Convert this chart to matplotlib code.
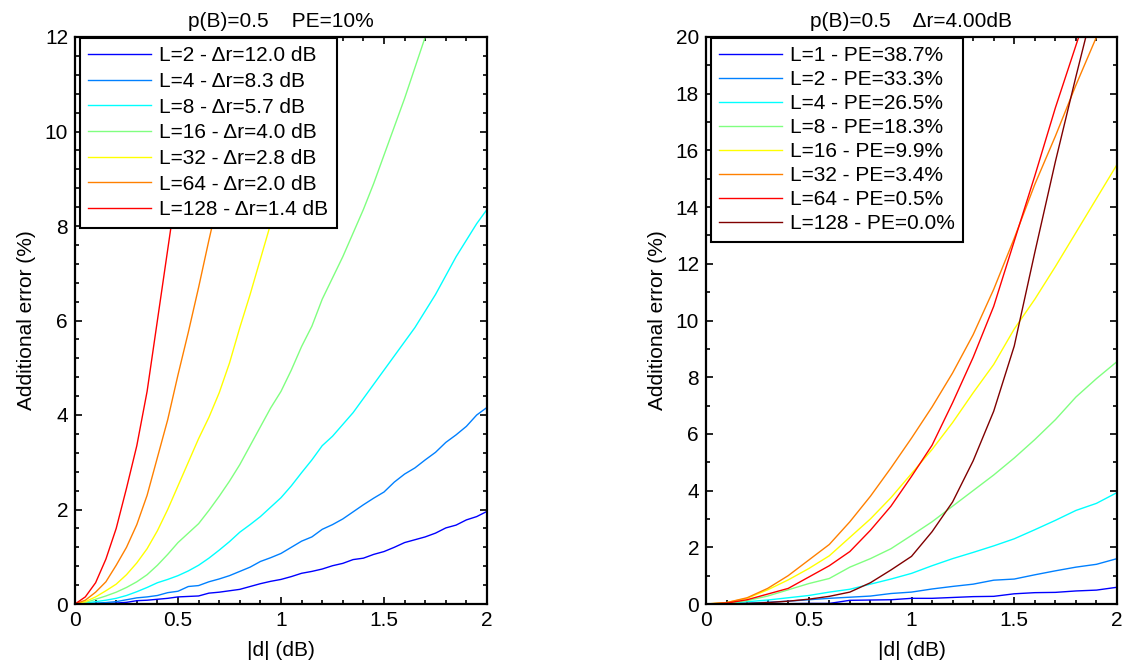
import matplotlib.pyplot as plt
import numpy as np
from matplotlib.ticker import MultipleLocator

plt.rcParams['font.family'] = ['Liberation Sans', 'DejaVu Sans']

# jet(8) colours as in MATLAB
colors = ['#0000ff', '#0080ff', '#00ffff', '#80ff80', '#ffff00', '#ff8000', '#ff0000', '#800000']

# ---- left panel: p(B)=0.5, PE=10% ----
x_left = np.linspace(0, 2, 41)
labels_left = ['L=2 - Δr=12.0 dB', 'L=4 - Δr=8.3 dB', 'L=8 - Δr=5.7 dB', 'L=16 - Δr=4.0 dB',
               'L=32 - Δr=2.8 dB', 'L=64 - Δr=2.0 dB', 'L=128 - Δr=1.4 dB']

L2_left = [0, 0, 0.005, 0.01, 0.02, 0.035, 0.07, 0.08, 0.1, 0.12, 0.15, 0.16, 0.17, 0.23, 0.25,
           0.28, 0.31, 0.37, 0.43, 0.48, 0.52, 0.58, 0.65, 0.69, 0.74, 0.81, 0.86, 0.94, 0.97, 1.05,
           1.11, 1.2, 1.3, 1.36, 1.42, 1.5, 1.61, 1.67, 1.78, 1.85, 1.96]
L4_left = [0, 0.01, 0.02, 0.03, 0.05, 0.09, 0.13, 0.15, 0.18, 0.24, 0.27, 0.37, 0.39, 0.47, 0.53,
           0.6, 0.69, 0.78, 0.9, 0.98, 1.07, 1.2, 1.33, 1.42, 1.58, 1.68, 1.8, 1.95, 2.1, 2.24,
           2.37, 2.58, 2.75, 2.88, 3.05, 3.21, 3.42, 3.58, 3.76, 4.0, 4.16]
L8_left = [0, 0.02, 0.05, 0.08, 0.12, 0.18, 0.26, 0.35, 0.45, 0.52, 0.6, 0.7, 0.82, 0.97, 1.14,
           1.32, 1.52, 1.68, 1.85, 2.05, 2.25, 2.5, 2.78, 3.05, 3.35, 3.55, 3.8, 4.05, 4.35, 4.65,
           4.95, 5.25, 5.55, 5.85, 6.2, 6.55, 6.95, 7.35, 7.7, 8.05, 8.35]
L16_left = [0, 0.03, 0.1, 0.17, 0.25, 0.35, 0.47, 0.62, 0.82, 1.05, 1.3, 1.5, 1.7, 1.98, 2.28,
            2.6, 2.95, 3.35, 3.75, 4.15, 4.5, 4.95, 5.45, 5.88, 6.45, 6.9, 7.35, 7.85, 8.35, 8.9,
            9.5, 10.1, 10.7, 11.35, 12.0]
L32_left = [0, 0.05, 0.15, 0.28, 0.42, 0.62, 0.87, 1.17, 1.55, 2.0, 2.5, 3.0, 3.5, 3.95, 4.47,
            5.1, 5.85, 6.55, 7.3, 8.05, 8.8, 9.55, 10.35, 11.15, 12.0, 12.9]
L64_left = [0, 0.08, 0.25, 0.47, 0.82, 1.2, 1.68, 2.3, 3.1, 3.9, 4.85, 5.75, 6.7, 7.7, 8.65,
            9.65, 10.7, 11.85, 13.0]
L128_left = [0, 0.15, 0.45, 0.95, 1.6, 2.45, 3.35, 4.5, 6.0, 7.5, 9.0, 10.5, 12.1, 13.6]
series_left = [L2_left, L4_left, L8_left, L16_left, L32_left, L64_left, L128_left]

# ---- right panel: p(B)=0.5, Δr=4.00dB ----
x_right = np.linspace(0, 2, 21)
labels_right = ['L=1 - PE=38.7%', 'L=2 - PE=33.3%', 'L=4 - PE=26.5%', 'L=8 - PE=18.3%',
                'L=16 - PE=9.9%', 'L=32 - PE=3.4%', 'L=64 - PE=0.5%', 'L=128 - PE=0.0%']

L1_right = [0, 0, 0, 0.01, 0.01, 0.02, 0.02, 0.13, 0.14, 0.15, 0.2, 0.2, 0.23, 0.26, 0.27,
            0.36, 0.4, 0.41, 0.46, 0.49, 0.59]
L2_right = [0, 0.01, 0.03, 0.06, 0.1, 0.15, 0.2, 0.24, 0.28, 0.37, 0.42, 0.53, 0.62, 0.7, 0.84,
            0.88, 1.03, 1.17, 1.3, 1.4, 1.6]
L4_right = [0, 0.02, 0.08, 0.14, 0.22, 0.3, 0.42, 0.52, 0.7, 0.88, 1.08, 1.35, 1.6, 1.82, 2.05,
            2.3, 2.62, 2.95, 3.3, 3.55, 3.93]
L8_right = [0, 0.03, 0.12, 0.28, 0.5, 0.72, 0.9, 1.3, 1.6, 1.95, 2.42, 2.9, 3.45, 4.0, 4.55,
            5.15, 5.8, 6.5, 7.3, 7.95, 8.55]
L16_right = [0, 0.05, 0.2, 0.5, 0.85, 1.25, 1.7, 2.35, 3.0, 3.75, 4.6, 5.45, 6.4, 7.45, 8.45,
             9.7, 10.75, 11.9, 13.1, 14.3, 15.5]
L32_right = [0, 0.05, 0.22, 0.55, 1.0, 1.55, 2.1, 2.9, 3.8, 4.8, 5.85, 6.95, 8.15, 9.5, 11.1,
             12.9, 14.8, 16.5, 18.3, 20.0, 21.7]
L64_right = [0, 0.03, 0.15, 0.35, 0.55, 0.95, 1.35, 1.85, 2.6, 3.45, 4.5, 5.6, 7.1, 8.7, 10.5,
             12.8, 15.1, 17.5, 19.7, 21.9, 24.0]
L128_right = [0, 0, 0.02, 0.05, 0.1, 0.17, 0.27, 0.42, 0.75, 1.2, 1.68, 2.55, 3.6, 5.05, 6.8,
              9.1, 12.4, 15.6, 18.6, 21.5, 24.5]
series_right = [L1_right, L2_right, L4_right, L8_right, L16_right, L32_right, L64_right, L128_right]

fs = 15

fig = plt.figure(figsize=(11.29, 6.71), dpi=100)
ax1 = fig.add_axes([75 / 1129, 67 / 671, 412 / 1129, 567 / 671])
ax2 = fig.add_axes([706 / 1129, 67 / 671, 411 / 1129, 567 / 671])


def style(ax, ymax, ymajor, yminor):
    ax.set_xlim(0, 2)
    ax.set_ylim(0, ymax)
    ax.xaxis.set_major_locator(MultipleLocator(0.5))
    ax.xaxis.set_minor_locator(MultipleLocator(0.1))
    ax.yaxis.set_major_locator(MultipleLocator(ymajor))
    ax.yaxis.set_minor_locator(MultipleLocator(yminor))
    ax.xaxis.set_major_formatter(plt.FuncFormatter(lambda v, p: f'{v:g}'))
    ax.tick_params(which='both', direction='in', top=True, right=True, labelsize=fs, width=1.2)
    ax.tick_params(which='major', length=5, pad=5)
    ax.tick_params(which='minor', length=3)
    for s in ax.spines.values():
        s.set_linewidth(1.6)
    ax.set_xlabel('|d| (dB)', fontsize=fs, labelpad=8)
    ax.set_ylabel('Additional error (%)', fontsize=fs, labelpad=6)


for y, lab, c in zip(series_left, labels_left, colors[:7]):
    ax1.plot(x_left[:len(y)], y, color=c, lw=1.0, label=lab)
style(ax1, 12, 2, 0.4)
ax1.set_title('p(B)=0.5    PE=10%', fontsize=fs, pad=7)
leg1 = ax1.legend(loc='upper left', bbox_to_anchor=(5 / 412, 1 - 1 / 567), borderaxespad=0,
                  fontsize=fs, fancybox=False, framealpha=1, edgecolor='black',
                  handlelength=3.0, handletextpad=0.4, labelspacing=0.32, borderpad=0.4)
leg1.get_frame().set_linewidth(1.5)

for y, lab, c in zip(series_right, labels_right, colors):
    ax2.plot(x_right, y, color=c, lw=1.0, label=lab)
style(ax2, 20, 2, 1)
ax2.set_title('p(B)=0.5    Δr=4.00dB', fontsize=fs, pad=7)
leg2 = ax2.legend(loc='upper left', bbox_to_anchor=(5 / 411, 1 - 1 / 567), borderaxespad=0,
                  fontsize=fs, fancybox=False, framealpha=1, edgecolor='black',
                  handlelength=3.0, handletextpad=0.4, labelspacing=0.24, borderpad=0.4)
leg2.get_frame().set_linewidth(1.5)

fig.savefig('out.png', dpi=100)
